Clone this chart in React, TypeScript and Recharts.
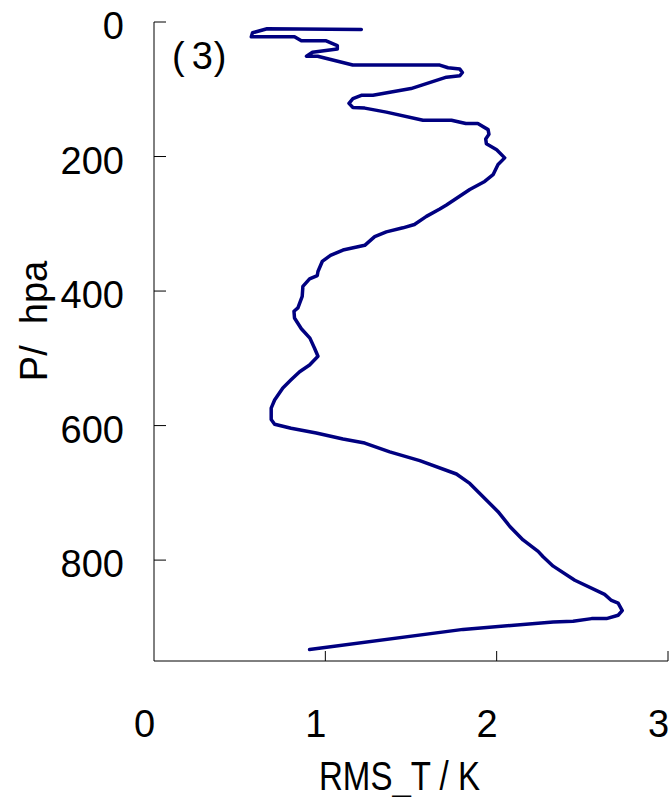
import React from "react";
import { ScatterChart, Scatter, XAxis, YAxis, Label } from "recharts";

const pressure = [
  11, 10, 16, 22, 22, 28, 28, 35, 40, 45, 51, 51, 64, 64, 68, 70, 75, 80, 82, 99,
  109, 109, 114, 121, 127, 128, 134, 146, 146, 151, 151, 160, 167, 174, 181, 190,
  202, 212, 227, 237, 249, 272, 278, 289, 301, 306, 312, 319, 332, 339, 347, 356,
  371, 377, 382, 393, 408, 425, 430, 440, 456, 470, 485, 497, 510, 520, 532, 544,
  562, 574, 591, 598, 604, 611, 620, 626, 639, 652, 672, 686, 728, 750, 770, 787,
  795, 809, 830, 851, 860, 864, 875, 882, 887, 887, 891, 892, 903, 933,
];

const rmsT = [
  1.21, 0.66, 0.575, 0.568, 0.82, 0.86, 1.005, 1.07, 1.07, 0.925, 0.89, 0.955, 1.16,
  1.668, 1.716, 1.785, 1.8, 1.785, 1.707, 1.5, 1.278, 1.21, 1.161, 1.138, 1.161, 1.23,
  1.356, 1.57, 1.736, 1.82, 1.89, 1.95, 1.955, 1.936, 1.94, 2.0, 2.047, 2.008, 1.979,
  1.93, 1.843, 1.707, 1.668, 1.59, 1.52, 1.453, 1.356, 1.288, 1.23, 1.103, 1.03, 0.982,
  0.957, 0.953, 0.908, 0.869, 0.865, 0.84, 0.817, 0.82, 0.86, 0.91, 0.937, 0.957, 0.908,
  0.85, 0.8, 0.752, 0.704, 0.684, 0.684, 0.704, 0.8, 0.947, 1.103, 1.23, 1.376, 1.551,
  1.765, 1.843, 2.008, 2.077, 2.154, 2.242, 2.271, 2.33, 2.456, 2.63, 2.67, 2.709, 2.733,
  2.709, 2.641, 2.554, 2.446, 2.33, 1.804, 0.908,
];

const xTicks = [0, 1, 2, 3];
const yTicks = [0, 200, 400, 600, 800];
const xTitle = "RMS_T / K";
const yTitle = "P/\u00a0 hpa";
const panelLabel = "3";

const data = pressure.map((p, i) => ({ p, rms: rmsT[i] }));

const FONT = "'Liberation Sans', Arial, sans-serif";

const YTick = (props: any) => {
  const { x, y, payload } = props;
  return (
    <g>
      <line x1={x} x2={x + 12} y1={y} y2={y} stroke="#000" strokeWidth={1} />
      <text x={x - 30} y={y + 17} textAnchor="end" fontSize={38} fontFamily={FONT} fill="#000">
        {payload.value}
      </text>
    </g>
  );
};

const XTick = (props: any) => {
  const { x, y, payload } = props;
  return (
    <g>
      {payload.value !== 0 && (
        <line x1={x} x2={x} y1={y} y2={y - 10} stroke="#000" strokeWidth={1} />
      )}
      <text x={x - 9.5} y={y + 76} textAnchor="middle" fontSize={38} fontFamily={FONT} fill="#000">
        {payload.value}
      </text>
    </g>
  );
};

const YTitle = () => (
  <text
    x={47}
    y={321}
    transform="rotate(-90, 47, 321)"
    textAnchor="middle"
    fontSize={38}
    fontFamily={FONT}
    fill="#000"
  >
    {yTitle}
  </text>
);

const XTitle = () => (
  <text
    x={319}
    y={790}
    fontSize={40}
    fontFamily={FONT}
    fill="#000"
    textLength={161}
    lengthAdjust="spacingAndGlyphs"
  >
    {xTitle}
  </text>
);

const PanelLabel = () => (
  <text x={172} y={69} fontSize={38} fontFamily={FONT} fill="#000">
    (<tspan dx={7}>{panelLabel}</tspan>
    <tspan dx={1}>)</tspan>
  </text>
);

const NoShape = () => <g />;

export default function App() {
  return (
    <div style={{ position: "absolute", left: 0, top: 0, background: "#fff" }}>
      <ScatterChart
        width={669}
        height={797}
        margin={{ top: 22, right: 1, bottom: 76, left: 54 }}
      >
        <XAxis
          type="number"
          dataKey="rms"
          domain={[0, 3]}
          ticks={xTicks}
          height={60}
          axisLine={{ stroke: "#000", strokeWidth: 1 }}
          tickLine={false}
          tickSize={0}
          tickMargin={0}
          tick={<XTick />}
          interval={0}
        >
          <Label content={<XTitle />} />
        </XAxis>
        <YAxis
          type="number"
          dataKey="p"
          domain={[0, 950]}
          reversed
          ticks={yTicks}
          width={100}
          axisLine={{ stroke: "#000", strokeWidth: 1 }}
          tickLine={false}
          tickSize={0}
          tickMargin={0}
          tick={<YTick />}
          interval={0}
        >
          <Label content={<YTitle />} />
          <Label content={<PanelLabel />} />
        </YAxis>
        <Scatter
          data={data}
          line={{ stroke: "#000080", strokeWidth: 3.5, strokeLinejoin: "round", strokeLinecap: "round" }}
          lineType="joint"
          shape={<NoShape />}
          isAnimationActive={false}
        />
      </ScatterChart>
    </div>
  );
}
